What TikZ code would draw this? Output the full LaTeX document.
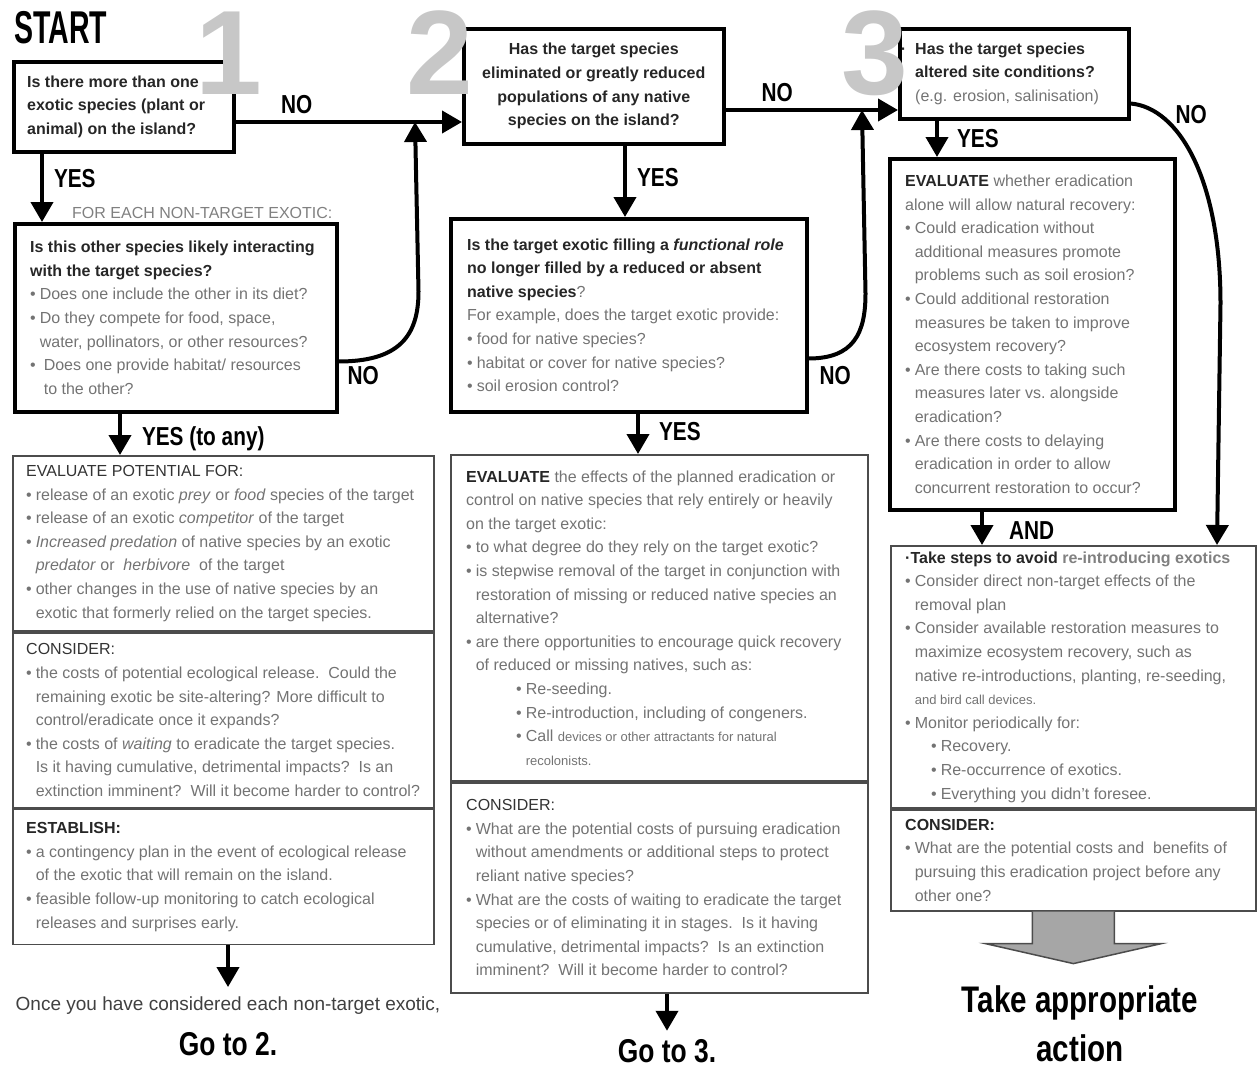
\documentclass[tikz,border=0pt]{standalone}
\usepackage{fontspec}
\setmainfont{Liberation Sans}
\newfontfamily\condfont[FakeStretch=0.8]{Liberation Sans}
\newfontfamily\startfont[FakeStretch=0.62]{Liberation Sans}
\usetikzlibrary{arrows.meta,positioning}

\newcommand{\bl}{\textbullet\hspace{4pt}}
\newcommand{\bh}{\phantom{\textbullet}\hspace{4pt}}
\newcommand{\dk}[1]{{\bfseries\color{black!85}#1}}
\newcommand{\hd}[1]{{\color{black!80}#1}}

\begin{document}
\begin{tikzpicture}[x=1pt, y=-1pt,
    qbox/.style={draw, line width=3.5pt, anchor=north west, inner sep=0pt},
    evbox/.style={draw=black!70, line width=1.8pt, anchor=north west, inner sep=0pt},
    body/.style={inner sep=0pt, align=left, text=black!55, font=\fontsize{16}{23.6}\selectfont},
    qtext/.style={body, text=black!85, font=\fontsize{16}{23.6}\selectfont\bfseries},
    lbl/.style={inner sep=0pt, font=\condfont\bfseries\fontsize{26}{26}\selectfont},
    biglbl/.style={lbl, align=center, font=\condfont\bfseries\fontsize{33}{48}\selectfont},
    bignum/.style={inner sep=0pt, text=black!22, font=\bfseries\fontsize{120}{120}\selectfont},
    arr/.style={line width=4pt, -{Triangle[width=22pt,length=20pt]}}]
\useasboundingbox (0,0) rectangle (1258,1068);

% step 1
\node[inner sep=0pt, anchor=north west, font=\startfont\bfseries\fontsize{46}{46}\selectfont] (start) at (14,11) {START};
\node[qbox, minimum width=220pt, minimum height=90pt] (q1) at (12,60) {};
\node[qtext, right=15pt of q1.west] (q1t) {Is there more than one\\exotic species (plant or\\animal) on the island?};

\node[body, text=black!50, anchor=base west] (foreach) at (72,218) {FOR EACH NON-TARGET EXOTIC:};
\node[qbox, minimum width=322pt, minimum height=188pt] (q1b) at (13,222) {};
\node[body, right=17pt of q1b.west] (q1bt) {\dk{Is this other species likely interacting}\\
  \dk{with the target species?}\\
  \bl Does one include the other in its diet?\\
  \bl Do they compete for food, space,\\
  \bh water, pollinators, or other resources?\\
  \bl\hspace{4pt}Does one provide habitat/ resources\\
  \bh\hspace{4pt}to the other?};

\node[evbox, minimum width=421pt, minimum height=175pt] (ev1a) at (12,455) {};
\node[evbox, minimum width=421pt, minimum height=175pt, below=0pt of ev1a] (ev1b) {};
\node[evbox, minimum width=421pt, minimum height=135pt, below=0pt of ev1b] (ev1c) {};
\node[body, right=14pt of ev1a.west] (ev1at) {\hd{EVALUATE POTENTIAL FOR:}\\
  \bl release of an exotic \emph{prey} or \emph{food} species of the target\\
  \bl release of an exotic \emph{competitor} of the target\\
  \bl \emph{Increased predation} of native species by an exotic\\
  \bh \emph{predator} or \ \emph{herbivore} \ of the target\\
  \bl other changes in the use of native species by an\\
  \bh exotic that formerly relied on the target species.};
\node[body, right=14pt of ev1b.west] (ev1bt) {\hd{CONSIDER:}\\
  \bl the costs of potential ecological release.\ \ Could the\\
  \bh remaining exotic be site-altering? More difficult to\\
  \bh control/eradicate once it expands?\\
  \bl the costs of \emph{waiting} to eradicate the target species.\\
  \bh Is it having cumulative, detrimental impacts?\ \ Is an\\
  \bh extinction imminent?\ \ Will it become harder to control?};
\node[body, right=14pt of ev1c.west] (ev1ct) {\dk{ESTABLISH:}\\
  \bl a contingency plan in the event of ecological release\\
  \bh of the exotic that will remain on the island.\\
  \bl feasible follow-up monitoring to catch ecological\\
  \bh releases and surprises early.};

\node[body, text=black!75, anchor=base, font=\fontsize{19}{19}\selectfont] (once) at (228,1010) {Once you have considered each non-target exotic,};
\node[biglbl, anchor=base] (go2) at (228,1055) {Go to 2.};

% step 2
\node[qbox, minimum width=260pt, minimum height=115pt] (q2) at (462,27) {};
\node[qtext, align=center] (q2t) at (q2.center) {Has the target species\\eliminated or greatly reduced\\populations of any native\\species on the island?};

\node[qbox, minimum width=356pt, minimum height=193pt] (q2b) at (449,217) {};
\node[body, right=18pt of q2b.west] (q2bt) {\dk{Is the target exotic filling a \emph{functional role}}\\
  \dk{no longer filled by a reduced or absent}\\
  \dk{native species}?\\
  For example, does the target exotic provide:\\
  \bl food for native species?\\
  \bl habitat or cover for native species?\\
  \bl soil erosion control?};

\node[evbox, minimum width=417pt, minimum height=326pt] (ev2a) at (450,454) {};
\node[evbox, minimum width=417pt, minimum height=210pt, below=0pt of ev2a] (ev2b) {};
\node[body, right=16pt of ev2a.west] (ev2at) {\dk{EVALUATE} the effects of the planned eradication or\\
  control on native species that rely entirely or heavily\\
  on the target exotic:\\
  \bl to what degree do they rely on the target exotic?\\
  \bl is stepwise removal of the target in conjunction with\\
  \bh restoration of missing or reduced native species an\\
  \bh alternative?\\
  \bl are there opportunities to encourage quick recovery\\
  \bh of reduced or missing natives, such as:\\
  \hspace*{50pt}\bl Re-seeding.\\
  \hspace*{50pt}\bl Re-introduction, including of congeners.\\
  \hspace*{50pt}\bl Call {\fontsize{13}{23.6}\selectfont devices or other attractants for natural}\\
  \hspace*{50pt}\bh {\fontsize{13}{23.6}\selectfont recolonists.}};
\node[body, right=16pt of ev2b.west] (ev2bt) {\hd{CONSIDER:}\\
  \bl What are the potential costs of pursuing eradication\\
  \bh without amendments or additional steps to protect\\
  \bh reliant native species?\\
  \bl What are the costs of waiting to eradicate the target\\
  \bh species or of eliminating it in stages.\ \ Is it having\\
  \bh cumulative, detrimental impacts?\ \ Is an extinction\\
  \bh imminent?\ \ Will it become harder to control?};

\node[biglbl, anchor=base] (go3) at (667,1062) {Go to 3.};

% step 3
\node[qbox, minimum width=229pt, minimum height=90pt] (q3) at (898,27) {};
\node[qtext, right=17pt of q3.west] (q3t) {\llap{·\hspace{9pt}}Has the target species\\
  altered site conditions?\\
  {\mdseries\color{black!55}(e.g. erosion, salinisation)}};

\node[qbox, minimum width=285pt, minimum height=351pt] (q3b) at (888,157) {};
\node[body, right=17pt of q3b.west] (q3bt) {\dk{EVALUATE} whether eradication\\
  alone will allow natural recovery:\\
  \bl Could eradication without\\
  \bh additional measures promote\\
  \bh problems such as soil erosion?\\
  \bl Could additional restoration\\
  \bh measures be taken to improve\\
  \bh ecosystem recovery?\\
  \bl Are there costs to taking such\\
  \bh measures later vs.\ alongside\\
  \bh eradication?\\
  \bl Are there costs to delaying\\
  \bh eradication in order to allow\\
  \bh concurrent restoration to occur?};

\node[evbox, minimum width=365pt, minimum height=262pt] (fina) at (890,545) {};
\node[evbox, minimum width=365pt, minimum height=101pt, below=0pt of fina] (finb) {};
\node[body, right=15pt of fina.west] (finat) {\dk{·Take steps to avoid} {\bfseries\color{black!50}re-introducing exotics}\\
  \bl Consider direct non-target effects of the\\
  \bh removal plan\\
  \bl Consider available restoration measures to\\
  \bh maximize ecosystem recovery, such as\\
  \bh native re-introductions, planting, re-seeding,\\
  \bh {\fontsize{13}{23.6}\selectfont and bird call devices.}\\
  \bl Monitor periodically for:\\
  \hspace*{26pt}\bl Recovery.\\
  \hspace*{26pt}\bl Re-occurrence of exotics.\\
  \hspace*{26pt}\bl Everything you didn't foresee.};
\node[body, right=15pt of finb.west] (finbt) {\dk{CONSIDER:}\\
  \bl What are the potential costs and \ benefits of\\
  \bh pursuing this eradication project before any\\
  \bh other one?};

\node[biglbl, font=\condfont\bfseries\fontsize{37}{49}\selectfont, anchor=north] (act) at (1080,985) {Take appropriate\\action};

% big step numbers, over the boxes
\node[bignum] (n1) at (229,53) {1};
\node[bignum] (n2) at (440,53) {2};
\node[bignum] (n3) at (875,53) {3};

% connectors
\coordinate (j12) at (415,122);
\coordinate (j23) at (862,110);
\coordinate (k3) at (1217,0);
\draw[arr] (q1.east |- j12) -- node[lbl, above=6pt, pos=0.27] (no1) {NO} (q2.west |- j12);
\draw[arr] ([yshift=52pt]q1b.south east) node[lbl, anchor=north west, xshift=7pt, yshift=-3pt] (no2) {NO}
  .. controls +(60,0) and +(0,45) .. ++(80,-70) -- (j12);
\draw[arr] (q2.east |- j23) -- node[lbl, above=6pt, pos=0.3] (no3) {NO} (q3.west |- j23);
\draw[arr] ([yshift=55pt]q2b.south east) node[lbl, anchor=north west, xshift=9pt, yshift=-6pt] (no4) {NO}
  .. controls +(45,0) and +(0,40) .. ++(57,-65) -- (j23);
\draw[arr] ([yshift=17pt]q3.south east) node[lbl, anchor=north west, xshift=43pt, yshift=0pt] (no5) {NO}
  .. controls +(48,4) and +(0,-125) .. ++(90,200) -- (fina.north -| k3);

\coordinate (y1) at ([xshift=30pt]q1.south west);
\coordinate (y2) at ([xshift=107pt]q1b.south west);
\coordinate (y3) at ([xshift=163pt]q2.south west);
\coordinate (y4) at ([xshift=189pt]q2b.south west);
\coordinate (y5) at ([xshift=39pt]q3.south west);
\coordinate (y6) at ([xshift=94pt]q3b.south west);
\draw[arr] (y1) -- node[lbl, right=10pt, pos=0.36] (yes1) {YES} (y1 |- q1b.north);
\draw[arr] (y2) -- node[lbl, right=20pt, pos=0.6] (yes2) {YES (to any)} (y2 |- ev1a.north);
\draw[arr] (y3) -- node[lbl, right=10pt, pos=0.45] (yes3) {YES} (y3 |- q2b.north);
\draw[arr] (y4) -- node[lbl, right=19pt, pos=0.45] (yes4) {YES} (y4 |- ev2a.north);
\draw[arr] (y5) -- node[lbl, right=18pt, pos=0.5] (yes5) {YES} (y5 |- q3b.north);
\draw[arr] (y6) -- node[lbl, right=25pt, pos=0.57] (and) {AND} (y6 |- fina.north);

\draw[arr] (ev1c.south -| once.north) -- ([yshift=9pt]once.north);
\draw[arr] (ev2b.south -| go3.north) -- ([yshift=8pt]go3.north);
\draw[draw=black!70, fill=black!35, line width=1.5pt] (finb.south) ++(-41,0) -- ++(0,32) -- ++(-47,0)
  -- ++(88,20) -- ++(88,-20) -- ++(-47,0) -- ++(0,-32);
\end{tikzpicture}
\end{document}
